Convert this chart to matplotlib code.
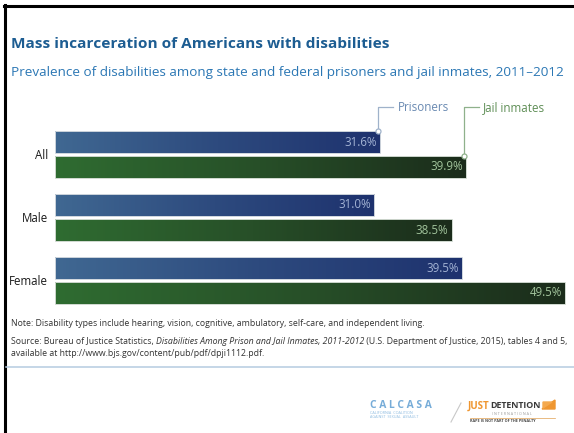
import numpy as np
import matplotlib
matplotlib.use("Agg")
import matplotlib.pyplot as plt
from matplotlib.colors import LinearSegmentedColormap
from matplotlib.lines import Line2D
from matplotlib.patches import Polygon

# ---------------- data ----------------
categories = ["All", "Male", "Female"]
prisoners = [31.6, 31.0, 39.5]
jail_inmates = [39.9, 38.5, 49.5]
series_names = ["Prisoners", "Jail inmates"]
title = "Mass incarceration of Americans with disabilities"
subtitle = "Prevalence of disabilities among state and federal prisoners and jail inmates, 2011\u20132012"
note = "Note: Disability types include hearing, vision, cognitive, ambulatory, self-care, and independent living."
source_parts = [
    ("Source: Bureau of Justice Statistics, ", "normal"),
    ("Disabilities Among Prison and Jail Inmates, 2011-2012", "italic"),
    (" (U.S. Department of Justice, 2015), tables 4 and 5,", "normal"),
]
source_line2 = "available at http://www.bjs.gov/content/pub/pdf/dpji1112.pdf."

FONT = ["Open Sans", "DejaVu Sans"]
plt.rcParams["font.family"] = FONT

W, H = 574, 433
fig = plt.figure(figsize=(W / 100, H / 100), dpi=100)
fig.patch.set_facecolor("white")

def fx(x):
    return x / W

def fy(y):
    return 1 - y / H

# ---------------- frame ----------------
fig.add_artist(Line2D([fx(3.5), fx(574)], [fy(5.5), fy(5.5)], color="black", lw=2.2))
fig.add_artist(Line2D([fx(5), fx(5)], [fy(4.5), fy(433)], color="black", lw=2.2))

# ---------------- titles ----------------
fig.text(fx(11), fy(48), title, fontsize=11.1, fontweight="bold",
         color="#1d5d92", va="baseline", ha="left")
fig.text(fx(11), fy(76), subtitle, fontsize=9.7,
         color="#2b77b4", va="baseline", ha="left")

# ---------------- axes ----------------
px_per_unit = 10.3
ax_left, ax_right = 55, 570
ax_top, ax_bot = 118, 310
unit_px = 63.0
group0_px = 154.5
ax = fig.add_axes([fx(ax_left), fy(ax_bot), (ax_right - ax_left) / W, (ax_bot - ax_top) / H])
ax.axis("off")

y = np.arange(len(categories))
off = 12.5 / unit_px
h = 22.0 / unit_px

cmap_p = LinearSegmentedColormap.from_list("p", ["#406892", "#2d4a7e", "#1e326e"])
cmap_j = LinearSegmentedColormap.from_list("j", ["#2f6c31", "#274f28", "#1b2c1b"])

bars_p = ax.barh(y - off, prisoners, height=h, color="none", edgecolor="#cfd6dd", lw=0.7)
bars_j = ax.barh(y + off, jail_inmates, height=h, color="none", edgecolor="#cfd8cf", lw=0.7)

grad = np.linspace(0, 1, 256).reshape(1, -1)
for bars, cmap in ((bars_p, cmap_p), (bars_j, cmap_j)):
    for b in bars:
        x0, y0 = b.get_x(), b.get_y()
        w, hh = b.get_width(), b.get_height()
        im = ax.imshow(grad, cmap=cmap, aspect="auto",
                       extent=(x0, x0 + w, y0 + hh, y0), zorder=1,
                       interpolation="bilinear")
        im.set_clip_path(b)
        b.set_zorder(2)

ax.set_xlim(0, (ax_right - ax_left) / px_per_unit)
ax.set_ylim((ax_bot - group0_px) / unit_px, -(group0_px - ax_top) / unit_px)

# value labels
for i, v in enumerate(prisoners):
    ax.text(v - 0.3, y[i] - off, f"{v:.1f}%", ha="right", va="center",
            fontsize=8.3, color="#a3b3d4", zorder=3)
for i, v in enumerate(jail_inmates):
    ax.text(v - 0.3, y[i] + off, f"{v:.1f}%", ha="right", va="center",
            fontsize=8.3, color="#a2c49c", zorder=3)

# category labels
for i, c in enumerate(categories):
    fig.text(fx(48), fy(group0_px + i * unit_px + 1), c, ha="right", va="center",
             fontsize=8.3, color="#1a1a1a")

# ---------------- callout labels ----------------
def ypx_to_data(ypx):
    lo, hi = ax.get_ylim()
    return hi + (ypx - ax_top) / unit_px

label_y = ypx_to_data(107.3)
callouts = [
    (prisoners[0], 0 - off - h / 2, "#9fb2ca", "#6a8ab2", series_names[0]),
    (jail_inmates[0], 0 + off - h / 2, "#8fb18b", "#5f8e56", series_names[1]),
]
for v, ytop, lc, tc, name in callouts:
    xv = v - 2 / px_per_unit
    ax.plot([xv, xv, xv + 15 / px_per_unit], [ytop, label_y, label_y],
            color=lc, lw=0.9, clip_on=False, zorder=4)
    ax.plot([xv], [ytop], marker="o", ms=3.6, mfc="white", mec=lc, mew=0.9,
            clip_on=False, zorder=5)
    ax.text(xv + 19 / px_per_unit, label_y, name, ha="left", va="center",
            fontsize=8.4, color=tc, clip_on=False)

# ---------------- notes ----------------
NOTE_FS = 6.35
fig.text(fx(11), fy(326.5), note, fontsize=NOTE_FS, color="#333333", va="baseline")

renderer = fig.canvas.get_renderer()
xcur = fx(11)
for txt, style in source_parts:
    t = fig.text(xcur, fy(344), txt, fontsize=NOTE_FS, color="#333333",
                 va="baseline", style=style)
    bb = t.get_window_extent(renderer=renderer)
    xcur += bb.width / fig.bbox.width
fig.text(fx(11), fy(356.5), source_line2, fontsize=NOTE_FS, color="#333333", va="baseline")

# rule
fig.add_artist(Line2D([fx(6), fx(574)], [fy(366.7), fy(366.7)], color="#b5cbe0", lw=1.1))

# ---------------- logos (as text) ----------------
fig.text(fx(370), fy(408), "C A L C A S A", fontsize=7.4, fontweight="bold",
         color="#76acd8", va="baseline")
fig.text(fx(370), fy(414), "CALIFORNIA  COALITION", fontsize=2.7, color="#8dbbe0",
         va="baseline")
fig.text(fx(370), fy(418.5), "AGAINST  SEXUAL  ASSAULT", fontsize=2.7, color="#8dbbe0",
         va="baseline")
fig.add_artist(Line2D([fx(451), fx(461)], [fy(422), fy(403)], color="#c8c8c8", lw=0.8))
fig.text(fx(468), fy(408.5), "JUST", fontsize=7.0, fontweight="bold",
         color="#ef9630", va="baseline")
fig.text(fx(490.5), fy(408.5), "DETENTION", fontsize=6.4, fontweight="bold",
         color="#3a3a3a", va="baseline")
fig.add_artist(Polygon([[fx(542), fy(409)], [fx(555), fy(400)], [fx(555), fy(409)]],
                       closed=True, color="#ef9630"))
fig.add_artist(Polygon([[fx(543), fy(402)], [fx(552), fy(402)], [fx(543), fy(408)]],
                       closed=True, color="#f4a94e"))
fig.text(fx(492), fy(415), "I N T E R N A T I O N A L", fontsize=2.6, color="#9a9a9a",
         va="baseline")
fig.add_artist(Line2D([fx(470), fx(555)], [fy(417.5), fy(417.5)], color="#e0a050", lw=0.5))
fig.text(fx(470), fy(422.5), "RAPE IS NOT PART OF THE PENALTY", fontsize=2.7,
         fontweight="bold", color="#444444", va="baseline")

fig.savefig("out.png", dpi=100, facecolor="white")
